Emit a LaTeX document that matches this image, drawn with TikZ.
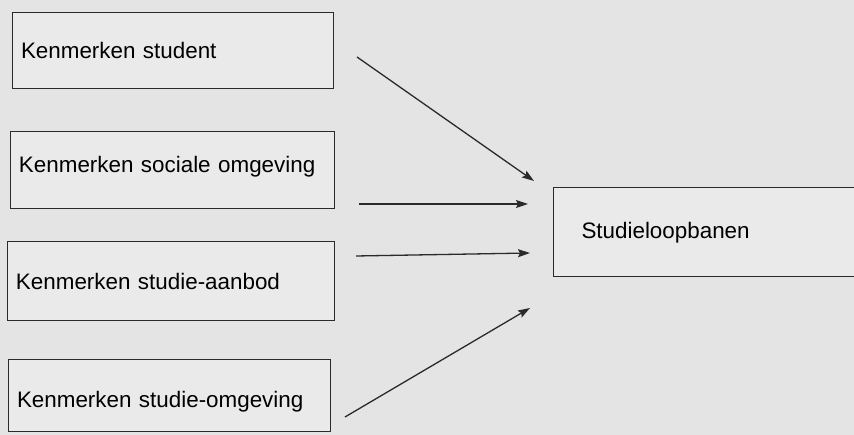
\documentclass[tikz,border=0pt]{standalone}
\usepackage{fontspec}
\setmainfont{Liberation Sans}
\usetikzlibrary{arrows.meta}
\definecolor{paper}{HTML}{E4E4E4}
\definecolor{boxfill}{HTML}{EAEAEA}
\definecolor{ink}{HTML}{2A2A2A}
\tikzset{
  factor/.style={draw=ink, line width=1pt, fill=boxfill, inner xsep=9pt,
    align=left, text=black, font=\fontsize{22.4}{26}\selectfont},
  influence/.style={draw=ink, line width=1.3pt,
    -{Stealth[length=12pt,width=8pt,inset=2pt]}},
}
\begin{document}
\begin{tikzpicture}[x=1pt,y=1pt]
  \useasboundingbox (0,0) rectangle (854,435);
  \clip (0,0) rectangle (854,435);
  \fill[paper] (0,0) rectangle (854,435);

  % factors on the left
  \node[factor, text width=303pt, minimum height=76pt] (student) at (172.5,384) {Kenmerken student};
  \node[factor, text width=306pt, minimum height=77pt, text depth=13pt] (sociaal) at (172,264.5) {Kenmerken sociale omgeving};
  \node[factor, text width=309pt, minimum height=79pt] (aanbod) at (170.5,153.5) {Kenmerken studie-aanbod};
  \node[factor, text width=304pt, minimum height=72pt, text height=23pt, text depth=0pt] (omgeving) at (169,39) {Kenmerken studie-omgeving};

  % outcome on the right
  \node[factor, inner xsep=28pt, text width=262pt, minimum height=89pt, anchor=west] (loopbaan) at (553,202.5) {Studieloopbanen};

  % arrow ends
  \coordinate (s1) at (357,378);
  \coordinate (t1) at (534,254);
  \coordinate (s2) at (359,231);
  \coordinate (t2) at (528,231);
  \coordinate (s3) at (356,179);
  \coordinate (t3) at (530,182);
  \coordinate (s4) at (345,18);
  \coordinate (t4) at (530,127);

  \draw[influence] (s1) -- (t1);
  \draw[influence] (s2) -- (t2);
  \draw[influence] (s3) -- (t3);
  \draw[influence] (s4) -- (t4);
\end{tikzpicture}
\end{document}
